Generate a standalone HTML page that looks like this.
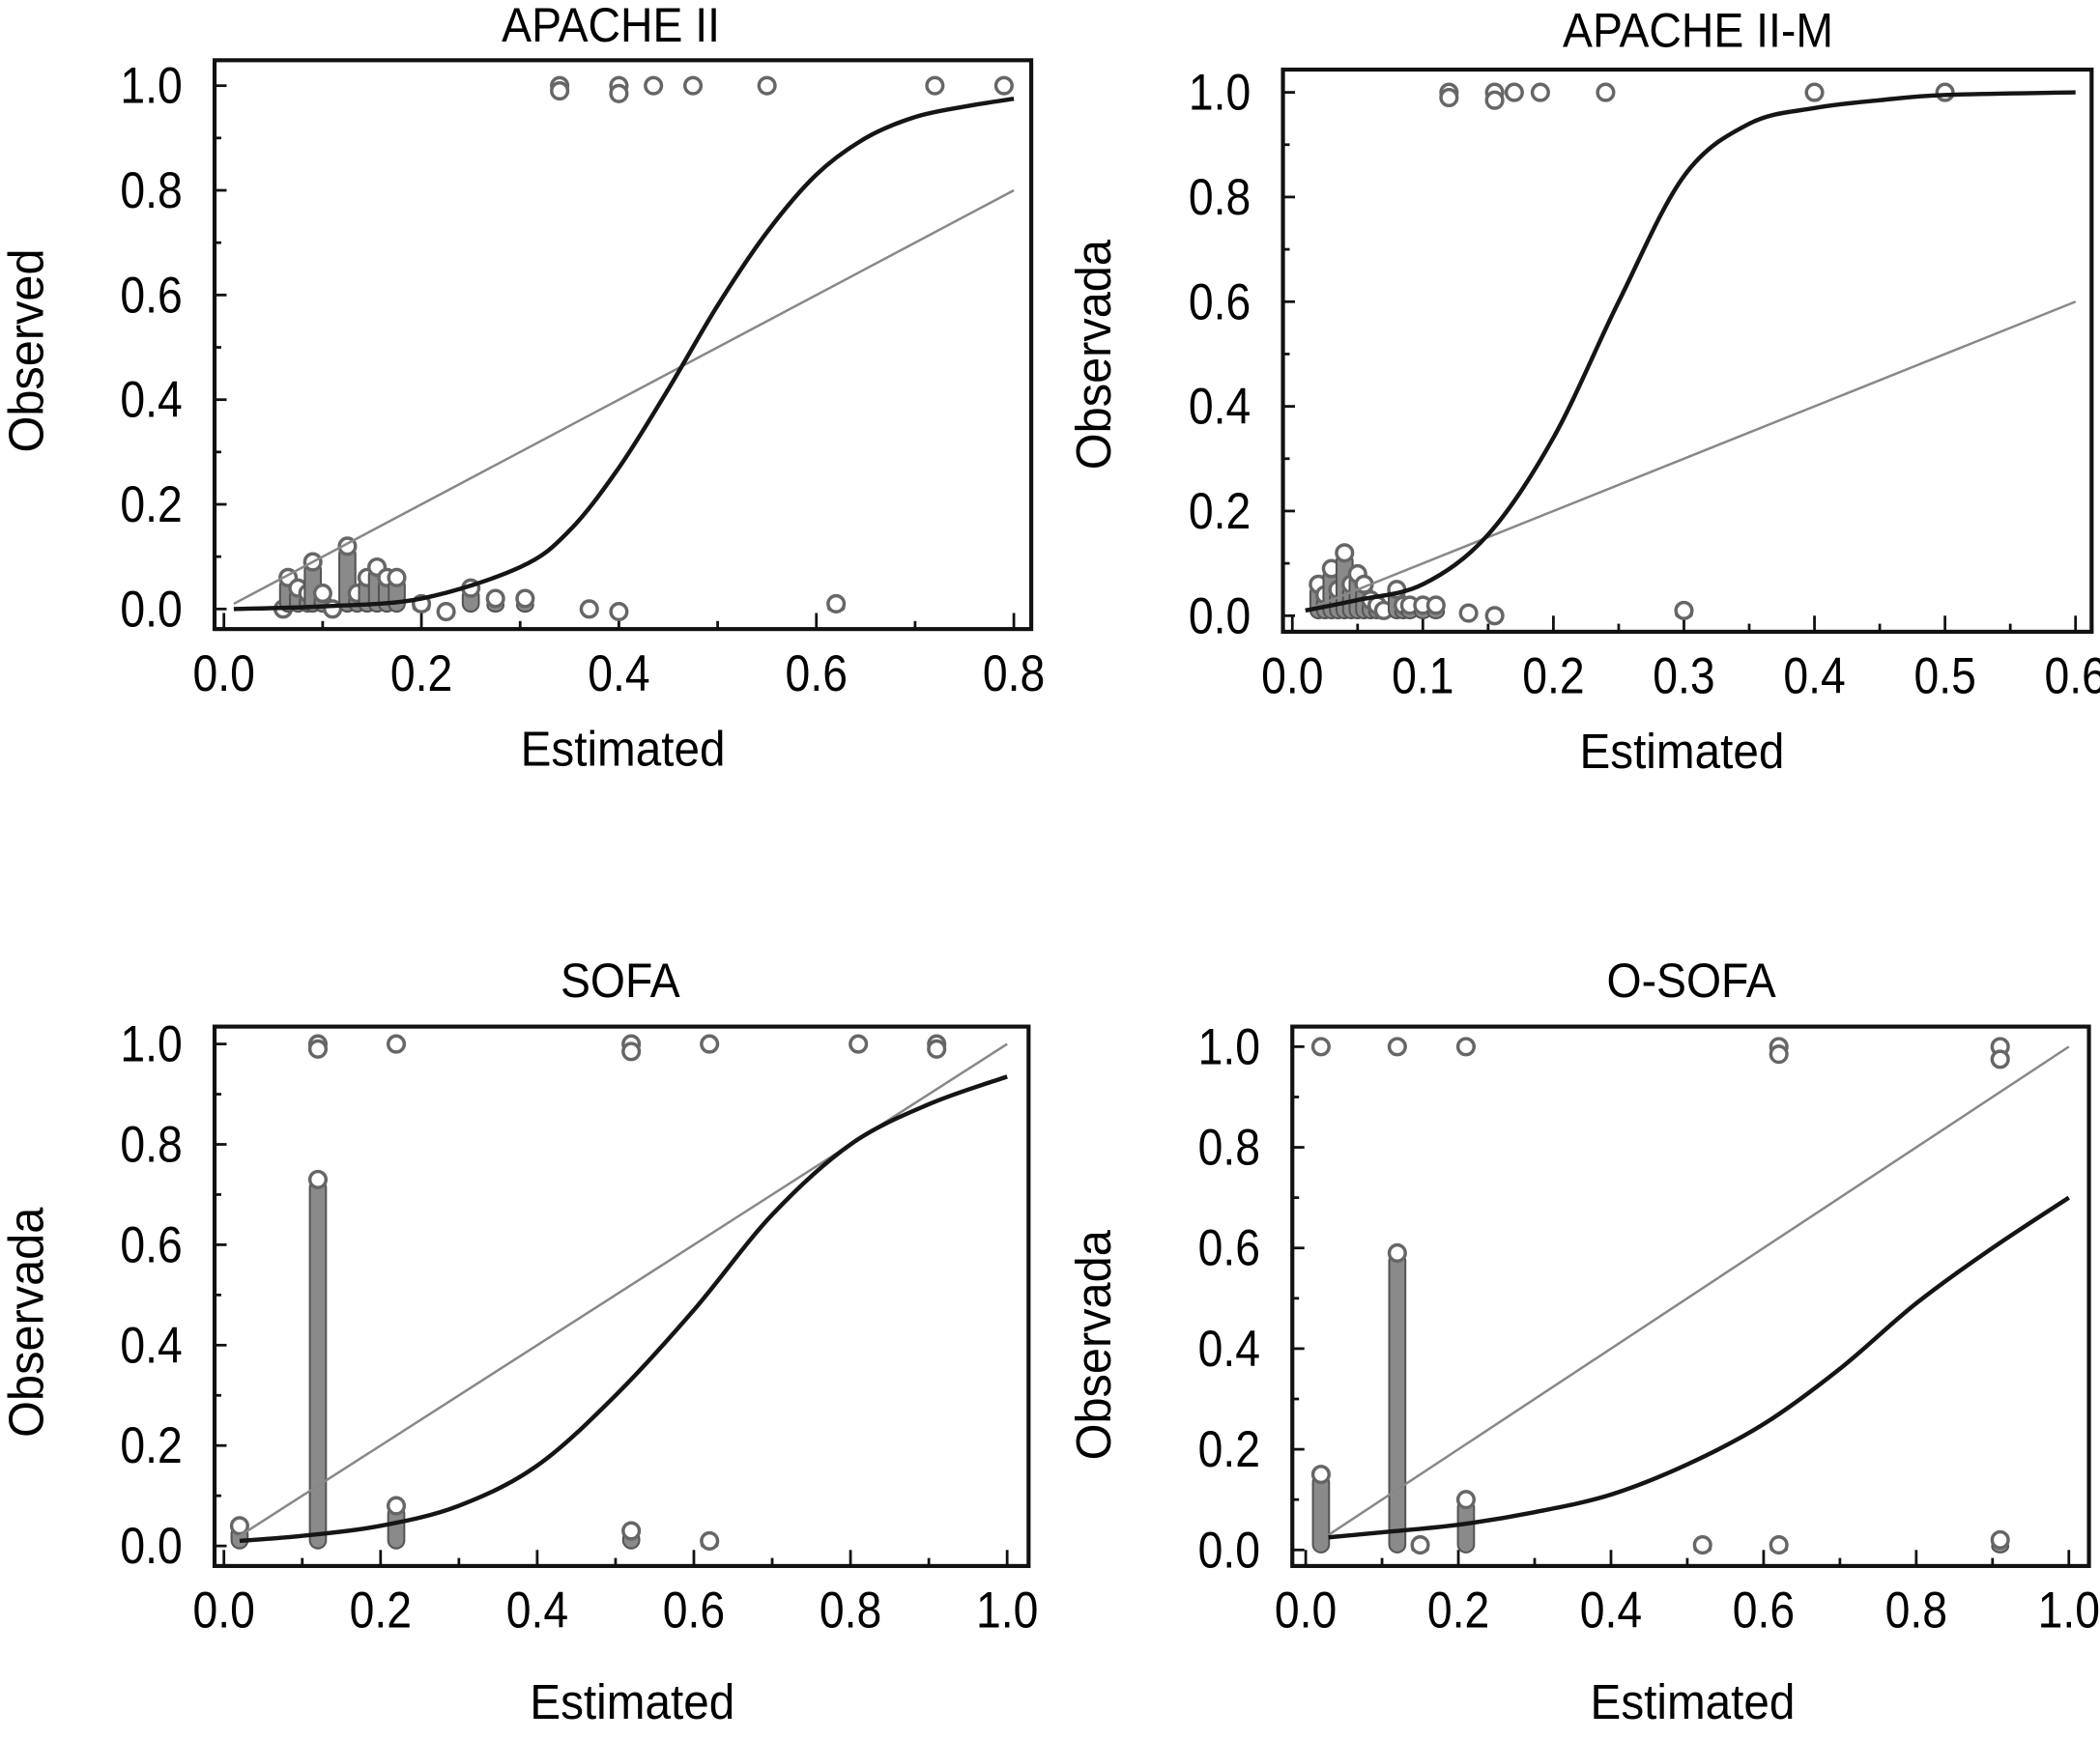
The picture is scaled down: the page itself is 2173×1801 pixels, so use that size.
<!DOCTYPE html>
<html><head><meta charset="utf-8"><style>
html,body{margin:0;padding:0;background:#fff;}
svg{display:block;font-family:"Liberation Sans",Arial,sans-serif;}
</style></head><body>
<svg id="fig" width="2173" height="1801" viewBox="0 0 1568 1300" xmlns="http://www.w3.org/2000/svg"></svg>
<script>
// ---- data: APACHE II ----
const p1CurveX=[0.01,0.1,0.2,0.3,0.35,0.4,0.45,0.5,0.55,0.6,0.65,0.7,0.75,0.8];
const p1CurveY=[0,0.005,0.02,0.08,0.15,0.27,0.42,0.58,0.72,0.83,0.9,0.94,0.96,0.975];
const p1StackX=[0.06,0.065,0.075,0.085,0.09,0.1,0.11,0.125,0.135,0.145,0.155,0.165,0.175,0.2,0.225,0.25,0.275,0.305,0.37,0.4,0.62];
const p1StackY=[0.0,0.06,0.04,0.03,0.09,0.03,0.0,0.12,0.03,0.06,0.08,0.06,0.06,0.01,-0.005,0.04,0.02,0.02,0.0,-0.005,0.01];
const p1TopX=[0.34,0.34,0.4,0.4,0.435,0.475,0.55,0.72,0.79];
const p1TopY=[1.0,0.99,1.0,0.985,1.0,1.0,1.0,1.0,1.0];
const p1XTicks=["0.0","0.2","0.4","0.6","0.8"];
// ---- data: APACHE II-M ----
const p2CurveX=[0.01,0.05,0.1,0.15,0.2,0.25,0.3,0.35,0.4,0.45,0.5,0.6];
const p2CurveY=[0.01,0.03,0.06,0.155,0.34,0.6,0.84,0.94,0.97,0.985,0.995,1.0];
const p2StackX=[0.02,0.025,0.03,0.035,0.04,0.045,0.05,0.055,0.06,0.065,0.07,0.08,0.085,0.09,0.1,0.11,0.135,0.155,0.3];
const p2StackY=[0.06,0.04,0.09,0.05,0.12,0.06,0.08,0.06,0.03,0.02,0.01,0.05,0.02,0.02,0.02,0.02,0.005,0.0,0.01];
const p2TopX=[0.12,0.12,0.155,0.155,0.17,0.19,0.24,0.4,0.5];
const p2TopY=[1.0,0.99,1.0,0.985,1.0,1.0,1.0,1.0,1.0];
const p2XTicks=["0.0","0.1","0.2","0.3","0.4","0.5","0.6"];
// ---- data: SOFA ----
const p3CurveX=[0.02,0.1,0.2,0.3,0.4,0.5,0.6,0.7,0.8,0.9,1.0];
const p3CurveY=[0.01,0.02,0.04,0.08,0.16,0.3,0.47,0.66,0.8,0.88,0.935];
const p3StackX=[0.02,0.12,0.22,0.52,0.62];
const p3StackY=[0.04,0.73,0.08,0.03,0.01];
const p3TopX=[0.12,0.12,0.22,0.52,0.52,0.62,0.81,0.91,0.91];
const p3TopY=[1.0,0.99,1.0,1.0,0.985,1.0,1.0,1.0,0.99];
const p3XTicks=["0.0","0.2","0.4","0.6","0.8","1.0"];
// ---- data: O-SOFA ----
const p4CurveX=[0.03,0.1,0.2,0.3,0.4,0.5,0.6,0.7,0.8,0.9,1.0];
const p4CurveY=[0.025,0.035,0.05,0.075,0.11,0.17,0.25,0.36,0.49,0.6,0.7];
const p4StackX=[0.02,0.12,0.15,0.21,0.52,0.62,0.91];
const p4StackY=[0.15,0.59,0.01,0.1,0.01,0.01,0.02];
const p4TopX=[0.02,0.12,0.21,0.62,0.62,0.91,0.91];
const p4TopY=[1.0,1.0,1.0,1.0,0.985,1.0,0.975];
const p4XTicks=["0.0","0.2","0.4","0.6","0.8","1.0"];
const yTicks=["0.0","0.2","0.4","0.6","0.8","1.0"];

const NS="http://www.w3.org/2000/svg";
const svg=document.getElementById('fig');
function mk(tag,attrs,parent){const e=document.createElementNS(NS,tag);for(const k in attrs)e.setAttribute(k,attrs[k]);(parent||svg).appendChild(e);return e;}
function txt(parent,x,y,size,anchor,str,sc,rot){
  const tr=rot?`translate(${x},${y}) rotate(-90) scale(${sc},1)`:`translate(${x},${y}) scale(${sc},1)`;
  const t=mk('text',{x:0,y:0,'font-size':size,'text-anchor':anchor,transform:tr},parent);
  t.textContent=str;return t;
}

function panel(cfg){
  const g=mk('g',{});
  
  
  const sx=v=>cfg.x0+(v-0)/(cfg.xmax)*(cfg.x1-cfg.x0);
  const sy=v=>cfg.y0+v*(cfg.y1-cfg.y0);
  const t=txt(g,cfg.tx,cfg.ty,36,'middle',cfg.title,0.93);
  
  
  const box=mk('rect',{x:cfg.bl,y:cfg.bt,width:cfg.br-cfg.bl,height:cfg.bb-cfg.bt,fill:'none',stroke:'#111','stroke-width':3},g);
  
  
  for(let i=0;i<=10;i++){const v=i/10,y=sy(v);mk('line',{x1:cfg.bl,x2:cfg.bl+(i%2?5:9),y1:y,y2:y,stroke:'#111','stroke-width':2},g);}
  yTicks.forEach((s,i)=>{const tt=txt(g,cfg.bl-24,sy(i*0.2)+13,38,'end',s,0.88);
    
    });
  const n=cfg.xTicks.length-1;
  for(let i=0;i<=2*n;i++){const v=cfg.xmax*i/(2*n),x=sx(v);mk('line',{x1:x,x2:x,y1:cfg.bb,y2:cfg.bb-(i%2?6:12),stroke:'#111','stroke-width':2},g);}
  cfg.xTicks.forEach((s,i)=>{const tt=txt(g,sx(cfg.xmax*i/n),cfg.bb+46,38,'middle',s,0.88);
    
    });
  const xl=txt(g,cfg.xlx,cfg.xly,37,'middle','Estimated',0.93);
  
  
  const yl=txt(g,cfg.ylx,cfg.yly,37,'middle',cfg.ylabel,0.95,true);
  
  
  const r=6;
  cfg.stackX.forEach((xv,i)=>{const x=sx(xv),yt=sy(cfg.stackY[i]),yb=sy(-0.005);
    const col=mk('rect',{x:x-r,y:yt,width:2*r,height:Math.max(0,yb-yt),rx:r,fill:'#8a8a8a',stroke:'#555','stroke-width':1.5},g);
    
    
    const c=mk('circle',{cx:x,cy:yt,r:r,fill:'#fff',stroke:'#666','stroke-width':2.5},g);
    
    });
  cfg.topX.forEach((xv,i)=>{const c=mk('circle',{cx:sx(xv),cy:sy(cfg.topY[i]),r:r,fill:'#fff',stroke:'#666','stroke-width':2.5},g);
    
    });
  const d=mk('line',{x1:sx(cfg.dx0),y1:sy(cfg.dx0),x2:sx(cfg.dx1),y2:sy(cfg.dx1),stroke:'#888','stroke-width':1.8},g);
  
  
  const P=cfg.cx.map((v,i)=>[sx(v),sy(cfg.cy[i])]);
  let dstr=`M${P[0][0]},${P[0][1]}`;
  for(let i=0;i<P.length-1;i++){const p0=P[Math.max(0,i-1)],p1=P[i],p2=P[i+1],p3=P[Math.min(P.length-1,i+2)];
    dstr+=` C${p1[0]+(p2[0]-p0[0])/6},${p1[1]+(p2[1]-p0[1])/6} ${p2[0]-(p3[0]-p1[0])/6},${p2[1]-(p3[1]-p1[1])/6} ${p2[0]},${p2[1]}`;}
  const cv=mk('path',{d:dstr,fill:'none',stroke:'#151515','stroke-width':3.2},g);
  
  
}
panel({name:'apache-ii',title:'APACHE II',tx:456,ty:31,bl:160,br:770,bt:45,bb:470,x0:167,x1:757,xmax:0.8,y0:455,y1:64,
  xTicks:p1XTicks,xlx:465,xly:572,ylx:32,yly:262,ylabel:'Observed',cx:p1CurveX,cy:p1CurveY,stackX:p1StackX,stackY:p1StackY,topX:p1TopX,topY:p1TopY,dx0:0.01,dx1:0.8});
panel({name:'apache-ii-m',title:'APACHE II-M',tx:1268,ty:35,bl:958,br:1562,bt:52,bb:472,x0:965,x1:1550,xmax:0.6,y0:460,y1:69,
  xTicks:p2XTicks,xlx:1256,xly:574,ylx:829,yly:265,ylabel:'Observada',cx:p2CurveX,cy:p2CurveY,stackX:p2StackX,stackY:p2StackY,topX:p2TopX,topY:p2TopY,dx0:0.01,dx1:0.6});
panel({name:'sofa',title:'SOFA',tx:463,ty:745,bl:160,br:768,bt:767,bb:1170,x0:167,x1:752,xmax:1.0,y0:1155,y1:780,
  xTicks:p3XTicks,xlx:472,xly:1284,ylx:32,yly:988,ylabel:'Observada',cx:p3CurveX,cy:p3CurveY,stackX:p3StackX,stackY:p3StackY,topX:p3TopX,topY:p3TopY,dx0:0.02,dx1:1.0});
panel({name:'o-sofa',title:'O-SOFA',tx:1263,ty:745,bl:965,br:1560,bt:767,bb:1170,x0:975,x1:1545,xmax:1.0,y0:1158,y1:782,
  xTicks:p4XTicks,xlx:1264,xly:1284,ylx:829,yly:1005,ylabel:'Observada',cx:p4CurveX,cy:p4CurveY,stackX:p4StackX,stackY:p4StackY,topX:p4TopX,topY:p4TopY,dx0:0.03,dx1:1.0});
</script>
</body></html>
